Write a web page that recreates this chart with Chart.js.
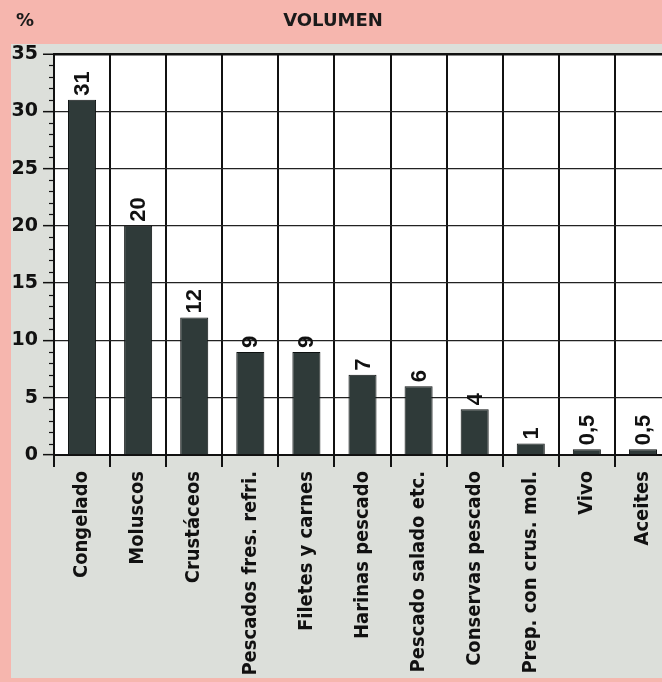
<!DOCTYPE html>
<html>
<head>
<meta charset="utf-8">
<script src="https://cdn.jsdelivr.net/npm/chart.js@4.4.1/dist/chart.umd.min.js"></script>
<style>
  html, body { margin: 0; padding: 0; overflow: hidden; background: #dcdfda; }
  #wrap { width: 672px; height: 682px; }
</style>
</head>
<body>
<div id="wrap"><canvas id="c" width="672" height="682"></canvas></div>
<script>
const categories = ['Congelado', 'Moluscos', 'Crustáceos', 'Pescados fres. refri.', 'Filetes y carnes',
  'Harinas pescado', 'Pescado salado etc.', 'Conservas pescado', 'Prep. con crus. mol.', 'Vivo', 'Aceites'];
const values = [31, 20, 12, 9, 9, 7, 6, 4, 1, 0.5, 0.5];
const valueLabels = ['31', '20', '12', '9', '9', '7', '6', '4', '1', '0,5', '0,5'];
const yTicks = [0, 5, 10, 15, 20, 25, 30, 35];
const chartTitle = 'VOLUMEN';
const unitLabel = '%';

const PINK = '#f6b6ae';
const GRAY = '#dcdfda';

const bgPlugin = {
  id: 'bg',
  beforeDraw(chart) {
    const ctx = chart.ctx;
    const W = chart.width, H = chart.height;
    ctx.save();
    ctx.fillStyle = GRAY;
    ctx.fillRect(0, 0, W, H);
    ctx.fillStyle = PINK;
    ctx.fillRect(0, 0, W, 44);
    ctx.fillRect(0, 0, 11, H);
    ctx.fillRect(0, 678, W, H - 678);
    const a = chart.chartArea;
    ctx.fillStyle = '#ffffff';
    ctx.fillRect(a.left, a.top, a.right - a.left, a.bottom - a.top);
    ctx.fillStyle = '#1a1a1a';
    ctx.textBaseline = 'middle';
    ctx.textAlign = 'center';
    ctx.font = 'bold 18px "DejaVu Sans", sans-serif';
    ctx.fillText(chartTitle, 333, 21);
    ctx.font = 'bold 18px "DejaVu Sans", sans-serif';
    ctx.fillText(unitLabel, 25, 21);
    ctx.restore();
  },
  afterDraw(chart) {
    const ctx = chart.ctx;
    const ys = chart.scales.y;
    ctx.save();
    ctx.strokeStyle = '#111';
    ctx.lineWidth = 1.2;
    for (let v = ys.min; v <= ys.max; v++) {
      if (v % 5 === 0) continue;
      const y = Math.round(ys.getPixelForValue(v)) + 0.5;
      ctx.beginPath();
      ctx.moveTo(ys.right - 5, y);
      ctx.lineTo(ys.right, y);
      ctx.stroke();
    }
    ctx.restore();
  }
};

const valuePlugin = {
  id: 'vals',
  afterDatasetsDraw(chart) {
    const ctx = chart.ctx;
    const meta = chart.getDatasetMeta(0);
    ctx.save();
    ctx.fillStyle = '#111';
    ctx.font = 'bold 22px "Liberation Sans Narrow", "Liberation Sans", Arial, sans-serif';
    ctx.textAlign = 'left';
    ctx.textBaseline = 'middle';
    meta.data.forEach((bar, i) => {
      ctx.save();
      ctx.translate(bar.x, bar.y - 4);
      ctx.rotate(-Math.PI / 2);
      ctx.fillText(valueLabels[i], 0, 1);
      ctx.restore();
    });
    ctx.restore();
  }
};

new Chart(document.getElementById('c'), {
  type: 'bar',
  data: {
    labels: categories,
    datasets: [{
      data: values,
      backgroundColor: '#2f3a39',
      borderColor: '#0d1111',
      borderWidth: 1,
      barPercentage: 0.5,
      categoryPercentage: 1.0
    }]
  },
  options: {
    responsive: false,
    animation: false,
    devicePixelRatio: 1,
    layout: { padding: { top: 54, left: 0, right: 1, bottom: 0 } },
    plugins: { legend: { display: false }, tooltip: { enabled: false } },
    scales: {
      x: {
        grid: {
          offset: true,
          color: '#111',
          lineWidth: 2,
          drawTicks: true,
          tickLength: 12,
          tickColor: '#111',
          tickWidth: 2
        },
        border: { display: true, color: '#111', width: 2 },
        ticks: {
          minRotation: 90,
          maxRotation: 90,
          autoSkip: false,
          padding: 4,
          color: '#111',
          font: { family: '"DejaVu Sans Condensed", "Liberation Sans Narrow", sans-serif', size: 20, weight: 'bold' }
        },
        afterFit(scale) { scale.height = 227; }
      },
      y: {
        min: 0,
        max: 35,
        afterBuildTicks(scale) { scale.ticks = yTicks.map(v => ({ value: v })); },
        grid: {
          color: (c) => c.tick && c.tick.value === 35 ? '#111' : '#222',
          lineWidth: (c) => c.tick && c.tick.value === 35 ? 2.5 : 1.3,
          drawTicks: true,
          tickLength: 11,
          tickColor: '#111',
          tickWidth: 1.5
        },
        border: { display: true, color: '#111', width: 2 },
        ticks: {
          padding: 5,
          color: '#111',
          font: { family: '"DejaVu Sans", sans-serif', size: 19, weight: 'bold' }
        },
        afterFit(scale) { scale.width = 54; }
      }
    }
  },
  plugins: [bgPlugin, valuePlugin]
});
</script>
</body>
</html>
